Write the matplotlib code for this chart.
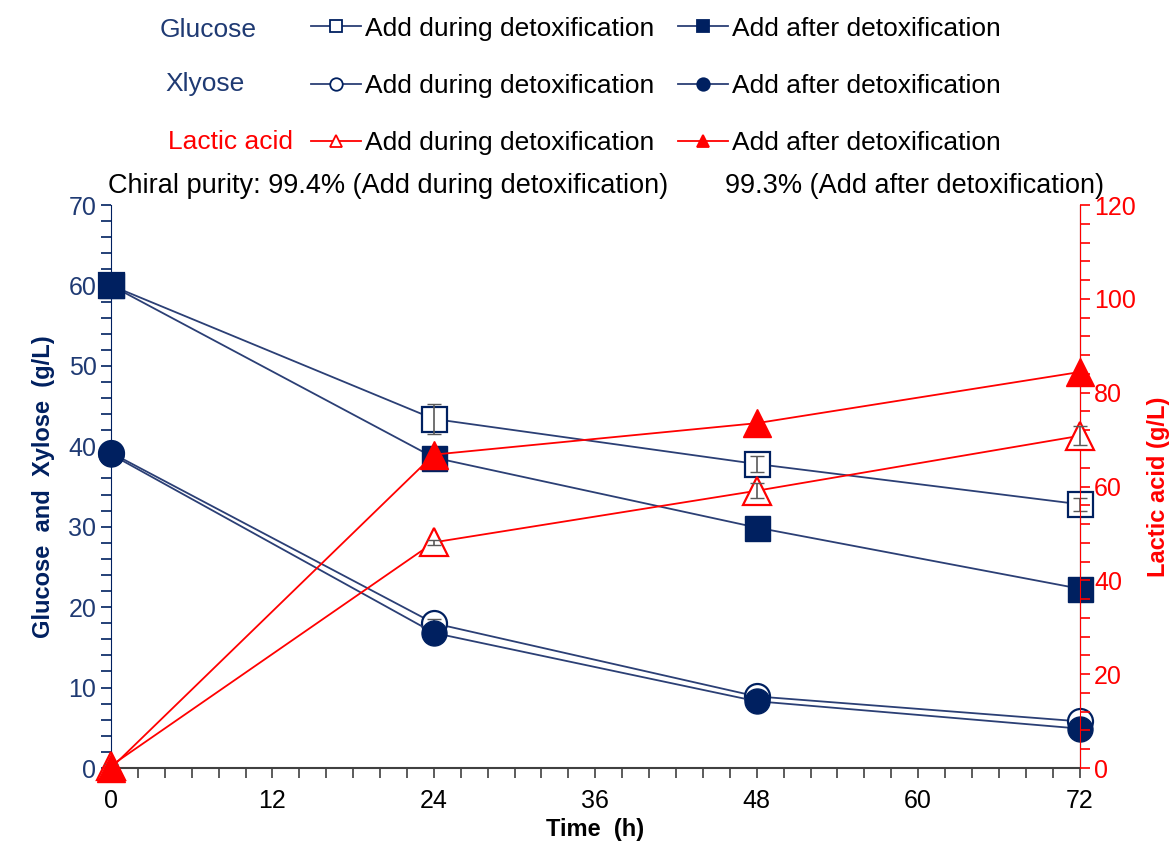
import matplotlib
matplotlib.use("Agg")
from matplotlib import pyplot as plt
from matplotlib.lines import Line2D
from matplotlib.ticker import MultipleLocator

plt.rcParams['font.family'] = ['Liberation Sans', 'DejaVu Sans']

time_h = [0, 24, 48, 72]

glucose_during = [60.0, 43.4, 37.8, 32.8]
glucose_during_err = [0.3, 1.9, 1.0, 0.8]
glucose_after = [60.0, 38.6, 29.9, 22.3]

xylose_during = [39.2, 18.0, 8.9, 5.8]
xylose_during_err = [0.2, 0.5, 0.4, 0.3]
xylose_after = [39.0, 16.8, 8.3, 4.9]

lactic_during = [0.5, 48.1, 59.1, 70.8]
lactic_during_err = [0.3, 0.6, 1.6, 2.0]
lactic_after = [0.0, 66.8, 73.5, 84.4]

navy = '#002060'
navy_line = '#2B3F75'
red = '#FF0000'
gray = '#595959'

fig = plt.figure(figsize=(11.76, 8.49), dpi=100)
ax = fig.add_axes([0.0944, 0.0954, 0.8236, 0.6631])
ax2 = ax.twinx()

ms = 18
eb = dict(fmt='none', ecolor=gray, elinewidth=1.2, capsize=5, clip_on=False)
# glucose
ax.plot(time_h, glucose_during, color=navy_line, lw=1.3, marker='s', ms=ms,
        mfc='white', mec=navy, mew=1.6, clip_on=False, zorder=3)
ax.errorbar(time_h, glucose_during, yerr=glucose_during_err, zorder=4, **eb)
ax.plot(time_h, glucose_after, color=navy_line, lw=1.3, marker='s', ms=ms,
        mfc=navy, mec=navy, clip_on=False, zorder=5)
# xylose
ax.plot(time_h, xylose_during, color=navy_line, lw=1.3, marker='o', ms=ms,
        mfc='white', mec=navy, mew=1.6, clip_on=False, zorder=3)
ax.errorbar(time_h, xylose_during, yerr=xylose_during_err, zorder=4, **eb)
ax.plot(time_h, xylose_after, color=navy_line, lw=1.3, marker='o', ms=ms,
        mfc=navy, mec=navy, clip_on=False, zorder=5)
# lactic acid
ax2.plot(time_h, lactic_during, color=red, lw=1.3, marker='^', ms=ms + 2,
         mfc='white', mec=red, mew=1.6, clip_on=False, zorder=3)
ax2.errorbar(time_h, lactic_during, yerr=lactic_during_err, zorder=4, **eb)
ax2.plot(time_h, lactic_after, color=red, lw=1.3, marker='^', ms=ms + 2,
         mfc=red, mec=red, clip_on=False, zorder=5)

ax.set_xlim(0, 72)
ax.set_ylim(0, 70)
ax2.set_ylim(0, 120)

ax.xaxis.set_major_locator(MultipleLocator(12))
ax.xaxis.set_minor_locator(MultipleLocator(2))
ax.yaxis.set_major_locator(MultipleLocator(10))
ax.yaxis.set_minor_locator(MultipleLocator(2))
ax2.yaxis.set_major_locator(MultipleLocator(20))
ax2.yaxis.set_minor_locator(MultipleLocator(4))

ax.tick_params(axis='x', which='both', direction='out', length=7, width=1.2,
               colors='#404040', labelcolor='black', labelsize=18, pad=8)
ax.tick_params(axis='y', which='both', direction='out', length=7, width=1.2,
               colors=navy, labelcolor='#1F3A73', labelsize=18)
ax2.tick_params(axis='y', which='both', direction='out', length=7, width=1.2,
                colors=red, labelcolor=red, labelsize=18)

for a in (ax, ax2):
    a.spines['top'].set_visible(False)
ax.spines['left'].set_color(navy)
ax.spines['bottom'].set_color('#404040')
ax.spines['bottom'].set_linewidth(1.5)
ax2.spines['right'].set_color(red)
ax2.spines['left'].set_visible(False)
ax2.spines['bottom'].set_visible(False)

ax.set_xlabel('Time  (h)', fontsize=17, fontweight='bold', labelpad=4)
ax.set_ylabel('Glucose  and  Xylose  (g/L)', fontsize=17, fontweight='bold',
              color=navy, labelpad=10)
ax2.set_ylabel('Lactic acid (g/L)', fontsize=17, fontweight='bold', color=red,
               labelpad=8)

# legend rows
lg = dict(lw=1.3, ms=9, mew=1.3)
handles = [
    Line2D([], [], color=navy_line, marker='s', mfc='white', mec=navy, **lg),
    Line2D([], [], color=navy_line, marker='o', mfc='white', mec=navy, **lg),
    Line2D([], [], color=red, marker='^', mfc='white', mec=red, **lg),
    Line2D([], [], color=navy_line, marker='s', mfc=navy, mec=navy, **lg),
    Line2D([], [], color=navy_line, marker='o', mfc=navy, mec=navy, **lg),
    Line2D([], [], color=red, marker='^', mfc=red, mec=red, **lg),
]
labels = ['Add during detoxification'] * 3 + ['Add after detoxification'] * 3
fig.legend(handles, labels, ncol=2, loc='upper left',
           bbox_to_anchor=(300 / 1176, 1 - 6 / 849), frameon=False,
           fontsize=19, handlelength=1.9, handletextpad=0.15,
           columnspacing=0.9, labelspacing=1.26, borderaxespad=0)

fig.text(160 / 1176, 1 - 30 / 849, 'Glucose', color='#1F3A73', fontsize=19,
         va='center', ha='left')
fig.text(165 / 1176, 1 - 84 / 849, 'Xlyose', color='#1F3A73', fontsize=19,
         va='center', ha='left')
fig.text(168 / 1176, 1 - 142 / 849, 'Lactic acid', color=red, fontsize=19,
         va='center', ha='left')

fig.text(108 / 1176, 1 - 186 / 849, 'Chiral purity: 99.4% (Add during detoxification)',
         fontsize=19.5, va='center', ha='left')
fig.text(725 / 1176, 1 - 186 / 849, '99.3% (Add after detoxification)',
         fontsize=19.5, va='center', ha='left')

fig.savefig('out.png', dpi=100)
